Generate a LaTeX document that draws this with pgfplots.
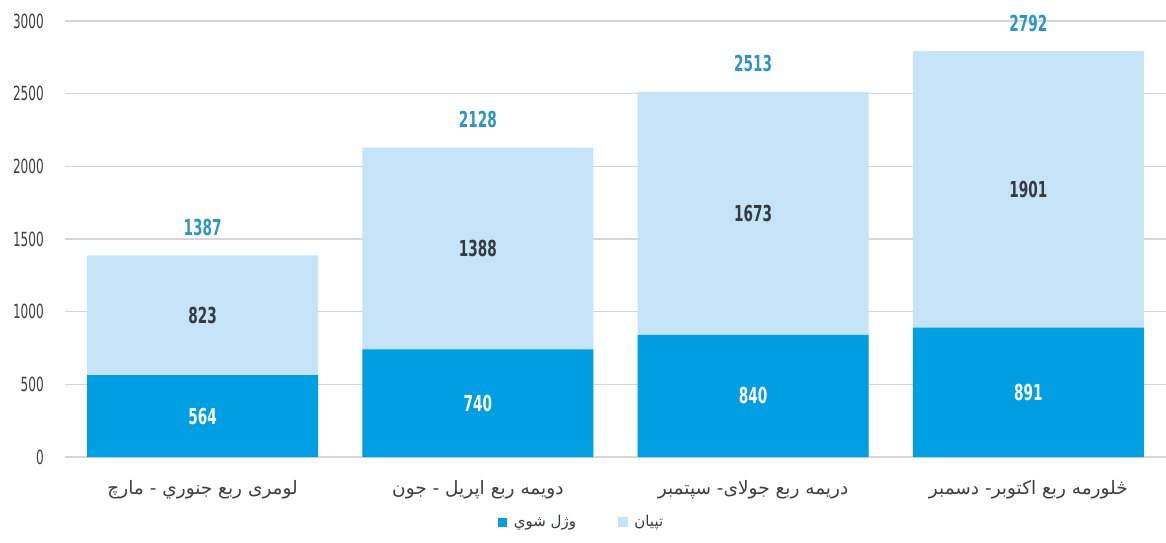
\documentclass[border=0pt]{standalone}
\usepackage{pgfplots}
\pgfplotsset{compat=1.18}
\usepackage{fontspec}
\setmainfont{DejaVu Sans}
\newfontfamily\arabicfont[Script=Arabic]{DejaVu Sans}
\newfontfamily\numfont[FakeStretch=0.62]{DejaVu Sans}
\TeXXeTstate=1
\definecolor{darkblue}{HTML}{009FE3}
\definecolor{lightblue}{HTML}{C5E4F7}
\definecolor{topblue}{HTML}{2B95C8}
\definecolor{innerdark}{HTML}{353B40}
\definecolor{gridgray}{HTML}{D6D6D6}
\definecolor{tickgray}{HTML}{3E3E3E}
\begin{document}
\begin{tikzpicture}
\begin{axis}[
  name=ax,
  scale only axis,
  width=1101pt, height=436pt,
  xmin=-0.5, xmax=3.5, ymin=0, ymax=3000,
  axis line style={draw=none},
  major tick length=0pt,
  ymajorgrids, grid style={gridgray, line width=1.2pt},
  ytick={0,500,...,3000},
  /pgf/number format/assume math mode=true,
  /pgf/number format/1000 sep={},
  yticklabel style={font=\numfont\fontsize{19.5}{22}\selectfont, text=tickgray, anchor=east, inner sep=0pt, xshift=-21pt},
  xtick={0,1,2,3},
  xticklabels={
    {\arabicfont\beginR لومری ربع جنوري - مارچ\endR},
    {\arabicfont\beginR دویمه ربع اپریل - جون\endR},
    {\arabicfont\beginR دریمه ربع جولای- سپتمبر\endR},
    {\arabicfont\beginR څلورمه ربع اکتوبر- دسمبر\endR}},
  xticklabel style={font=\fontsize{18.5}{21}\selectfont, text=tickgray, anchor=base, yshift=-37pt},
  clip=false,
  legend columns=2,
  legend style={at={(0.5,0)}, anchor=center, xshift=-34pt, yshift=-65pt, draw=none, fill=none,
    font=\arabicfont\fontsize{15}{17}\selectfont, text=innerdark,
    /tikz/every odd column/.append style={column sep=5pt},
    /tikz/every even column/.append style={column sep=40pt}},
]
\addplot[ybar, bar width=0.84, bar shift=0pt, fill=lightblue, draw=none, forget plot]
  coordinates {(0,1387) (1,2128) (2,2513) (3,2792)};
\addplot[ybar, bar width=0.84, bar shift=0pt, fill=darkblue, draw=none,
  legend image code/.code={\fill[darkblue] (0pt,-4.5pt) rectangle (9pt,4.5pt);}]
  coordinates {(0,564) (1,740) (2,840) (3,891)};
\addlegendentry{\beginR وژل شوي\endR}
\addlegendimage{legend image code/.code={\fill[lightblue] (0pt,-4.5pt) rectangle (9pt,4.5pt);}}
\addlegendentry{\beginR تپيان\endR}
% top totals
\addplot[draw=none, mark=none, forget plot, nodes near coords, point meta=explicit symbolic,
  nodes near coords style={anchor=center, yshift=28pt, text=topblue, font=\numfont\bfseries\fontsize{22}{24}\selectfont}]
  coordinates {(0,1387) [1387] (1,2128) [2128] (2,2513) [2513] (3,2792) [2792]};
% injured labels
\addplot[draw=none, mark=none, forget plot, nodes near coords, point meta=explicit symbolic,
  nodes near coords style={anchor=center, text=innerdark, font=\numfont\bfseries\fontsize{22}{24}\selectfont}]
  coordinates {(0,975.5) [823] (1,1434) [1388] (2,1676.5) [1673] (3,1841.5) [1901]};
% killed labels
\addplot[draw=none, mark=none, forget plot, nodes near coords, point meta=explicit symbolic,
  nodes near coords style={anchor=center, text=white, font=\numfont\bfseries\fontsize{22}{24}\selectfont}]
  coordinates {(0,282) [564] (1,370) [740] (2,420) [840] (3,445.5) [891]};
\end{axis}
\pgfresetboundingbox
\path ([xshift=-65pt,yshift=-85pt]ax.south west) rectangle ([yshift=21pt]ax.north east);
\end{tikzpicture}
\end{document}
